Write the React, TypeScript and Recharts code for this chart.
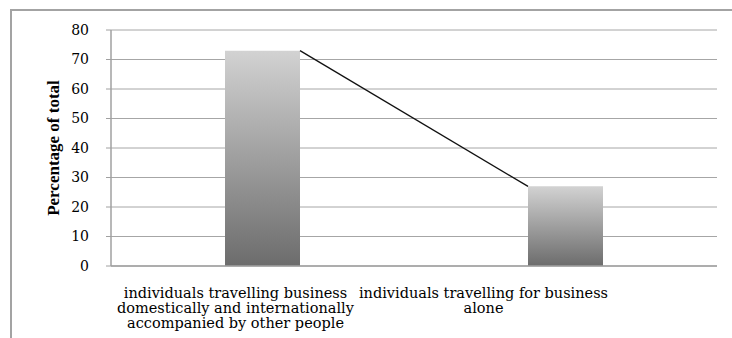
import {
  ComposedChart,
  Bar,
  Line,
  XAxis,
  YAxis,
  CartesianGrid,
} from "recharts";

const categories = [
  "individuals travelling business domestically and internationally accompanied by other people",
  "individuals travelling for business alone",
];

const tickLines = [
  ["individuals travelling business", "domestically and internationally", "accompanied by other people"],
  ["individuals travelling for business", "alone"],
];

const percentages = [73, 27];

const yTicks = [0, 10, 20, 30, 40, 50, 60, 70, 80];

const data = categories.map((name, i) => ({ name, value: percentages[i] }));

const BAR_WIDTH = 75;
const serif = "'DejaVu Serif', serif";

// Excel placed the wrapped labels left of the bar centres
const labelShift = [-27, -82];

type TickProps = {
  x?: number;
  y?: number;
  payload?: { index: number };
};

function CategoryTick({ x = 0, y = 0, payload }: TickProps) {
  const i = payload ? payload.index : 0;
  const lines = tickLines[i] || [];
  return (
    <text
      x={x + labelShift[i]}
      y={y}
      textAnchor="middle"
      fontFamily={serif}
      fontSize={14.5}
      fill="#000"
    >
      {lines.map((line, k) => (
        <tspan key={k} x={x + labelShift[i]} dy={k === 0 ? 30 : 15}>
          {line}
        </tspan>
      ))}
    </text>
  );
}

export default function App() {
  return (
    <div
      style={{
        position: "absolute",
        left: 0,
        top: 0,
        width: 732,
        height: 338,
        overflow: "hidden",
        background: "#fff",
      }}
    >
      <div
        style={{
          position: "absolute",
          left: 10,
          top: 9,
          width: 740,
          height: 350,
          border: "2px solid #a3a3a3",
          boxSizing: "border-box",
        }}
      />
      <ComposedChart
        width={732}
        height={338}
        data={data}
        margin={{ top: 30, right: 15, bottom: 12, left: 51 }}
        style={{ position: "absolute", left: 0, top: 0 }}
      >
        <defs>
          <linearGradient id="barFill" x1="0" y1="0" x2="0" y2="1">
            <stop offset="0%" stopColor="#d2d2d2" />
            <stop offset="100%" stopColor="#6c6c6c" />
          </linearGradient>
        </defs>
        <CartesianGrid vertical={false} stroke="#a6a6a6" />
        <XAxis
          dataKey="name"
          height={60}
          axisLine={{ stroke: "#a0a0a0", strokeWidth: 1.5 }}
          tickLine={false}
          tickSize={0}
          interval={0}
          tick={<CategoryTick />}
        />
        <XAxis
          xAxisId="edge"
          dataKey="name"
          hide
          padding={{ left: BAR_WIDTH, right: BAR_WIDTH }}
        />
        <YAxis
          width={60}
          domain={[0, 80]}
          ticks={yTicks}
          interval={0}
          axisLine={{ stroke: "#a0a0a0", strokeWidth: 1.5 }}
          tickLine={{ stroke: "#a0a0a0" }}
          tickSize={5}
          tickMargin={17}
          tick={{ fontFamily: serif, fontSize: 14, fill: "#000" }}
          label={{
            value: "Percentage of total",
            angle: -90,
            position: "insideLeft",
            offset: 2,
            style: {
              textAnchor: "middle",
              fontFamily: "'Liberation Serif', serif",
              fontWeight: "bold",
              fontSize: 17,
              fill: "#000",
            },
          }}
        />
        <Bar
          dataKey="value"
          barSize={BAR_WIDTH}
          fill="url(#barFill)"
          isAnimationActive={false}
        />
        <Line
          xAxisId="edge"
          dataKey="value"
          type="linear"
          stroke="#111"
          strokeWidth={1.3}
          dot={false}
          activeDot={false}
          isAnimationActive={false}
        />
      </ComposedChart>
    </div>
  );
}
